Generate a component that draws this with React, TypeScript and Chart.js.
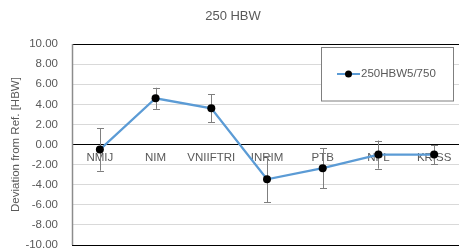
import React, { useEffect, useRef } from "react";
import { Chart, registerables } from "chart.js";

Chart.register(...registerables);

const title = "250 HBW";
const yTitle = "Deviation from Ref. [HBW]";
const seriesName = "250HBW5/750";
const categories = ["NMIJ", "NIM", "VNIIFTRI", "INRIM", "PTB", "NPL", "KRISS"];
const deviations = [-0.5, 4.6, 3.6, -3.45, -2.35, -1.0, -1.0];
const uncertainties = [2.1, 1.05, 1.4, 2.3, 2.0, 1.4, 0.95];
const yMin = -10;
const yMax = 10;
const yStep = 2;

const FONT = '"Liberation Sans", Arial, sans-serif';
const TEXT = "#595959";

const decorPlugin = {
  id: "decor",
  beforeDatasetsDraw(chart: any) {
    const { ctx, chartArea } = chart;
    const x = chart.scales.x;
    const y = chart.scales.y;
    ctx.save();
    ctx.strokeStyle = "#000000";
    ctx.lineWidth = 1;
    ctx.beginPath();
    ctx.moveTo(chartArea.left, Math.round(chartArea.top) + 0.5);
    ctx.lineTo(chartArea.right, Math.round(chartArea.top) + 0.5);
    ctx.moveTo(chartArea.left, Math.round(chartArea.bottom) + 0.5);
    ctx.lineTo(chartArea.right, Math.round(chartArea.bottom) + 0.5);
    ctx.stroke();
    ctx.strokeStyle = "#8c8c8c";
    ctx.lineWidth = 1.5;
    ctx.beginPath();
    ctx.moveTo(chartArea.left + 0.5, chartArea.top);
    ctx.lineTo(chartArea.left + 0.5, chartArea.bottom);
    ctx.stroke();
    ctx.strokeStyle = "#7f7f7f";
    ctx.lineWidth = 1;
    deviations.forEach((v, i) => {
      const px = Math.round(x.getPixelForValue(i)) + 0.5;
      const top = y.getPixelForValue(v + uncertainties[i]);
      const bot = y.getPixelForValue(v - uncertainties[i]);
      ctx.beginPath();
      ctx.moveTo(px, top);
      ctx.lineTo(px, bot);
      ctx.moveTo(px - 3.5, Math.round(top) + 0.5);
      ctx.lineTo(px + 3.5, Math.round(top) + 0.5);
      ctx.moveTo(px - 3.5, Math.round(bot) + 0.5);
      ctx.lineTo(px + 3.5, Math.round(bot) + 0.5);
      ctx.stroke();
    });
    ctx.restore();
  },
  afterDraw(chart: any) {
    const { ctx, chartArea } = chart;
    ctx.save();
    ctx.fillStyle = TEXT;
    ctx.font = `13px ${FONT}`;
    ctx.textAlign = "center";
    ctx.textBaseline = "middle";
    ctx.fillText(title, chart.width / 2, 16);
    ctx.font = `11.5px ${FONT}`;
    ctx.save();
    ctx.translate(16, (chartArea.top + chartArea.bottom) / 2);
    ctx.rotate(-Math.PI / 2);
    ctx.fillText(yTitle, 0, 0);
    ctx.restore();
    ctx.fillStyle = "#ffffff";
    ctx.fillRect(321, 47.5, 132, 53.5);
    ctx.strokeStyle = "#7f7f7f";
    ctx.lineWidth = 1;
    ctx.strokeRect(321.5, 47.5, 132, 53.5);
    ctx.strokeStyle = "#5b9bd5";
    ctx.lineWidth = 2;
    ctx.beginPath();
    ctx.moveTo(337, 74);
    ctx.lineTo(360, 74);
    ctx.stroke();
    ctx.fillStyle = "#000000";
    ctx.beginPath();
    ctx.arc(348.5, 74, 3.5, 0, Math.PI * 2);
    ctx.fill();
    ctx.fillStyle = TEXT;
    ctx.textAlign = "left";
    ctx.fillText(seriesName, 361, 74);
    ctx.restore();
  },
};

export default function App() {
  const ref = useRef<HTMLCanvasElement | null>(null);
  useEffect(() => {
    if (!ref.current) return;
    const chart = new Chart(ref.current, {
      type: "line",
      data: {
        labels: categories,
        datasets: [
          {
            label: seriesName,
            data: deviations,
            borderColor: "#5b9bd5",
            borderWidth: 2.25,
            pointBackgroundColor: "#000000",
            pointBorderColor: "#000000",
            pointBorderWidth: 0,
            pointRadius: 4,
            tension: 0,
          },
        ],
      },
      options: {
        animation: false,
        responsive: false,
        devicePixelRatio: 1,
        layout: { padding: { top: 44, bottom: 6, left: 0, right: 0 } },
        plugins: { legend: { display: false }, title: { display: false }, tooltip: { enabled: false } },
        scales: {
          x: {
            type: "category",
            position: { y: 0 },
            offset: true,
            grid: { display: false, drawTicks: false },
            border: { display: true, color: "#000000", width: 1 },
            ticks: { color: TEXT, font: { family: FONT, size: 11.5 }, padding: 6, maxRotation: 0, autoSkip: false },
            afterFit: (s: any) => {
              s.height = 0;
            },
          },
          y: {
            min: yMin,
            max: yMax,
            grid: { color: "#d9d9d9", drawTicks: false },
            border: { display: false },
            ticks: {
              stepSize: yStep,
              color: TEXT,
              font: { family: FONT, size: 11.5 },
              padding: 14,
              callback: (v: any) => Number(v).toFixed(2),
            },
            afterFit: (s: any) => {
              s.width = 72;
            },
          },
        },
      },
      plugins: [decorPlugin],
    } as any);
    return () => chart.destroy();
  }, []);
  return (
    <div style={{ position: "absolute", left: 0, top: 0, width: 459, height: 252, overflow: "hidden", background: "#fff" }}>
      <canvas ref={ref} width={466} height={266} style={{ display: "block" }} />
    </div>
  );
}
